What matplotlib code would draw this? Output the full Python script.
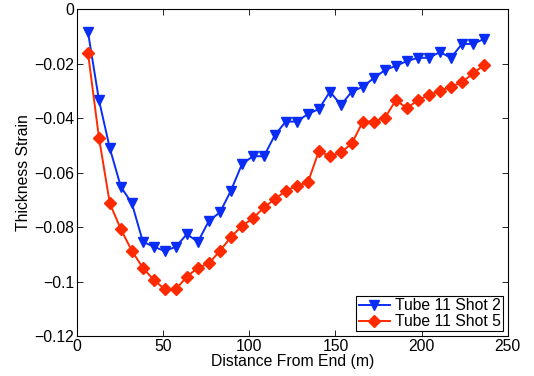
import matplotlib
matplotlib.use("Agg")
import matplotlib.pyplot as plt

distance = [6.4, 12.8, 19.1, 25.5, 31.9, 38.3, 44.7, 51.0, 57.4, 63.8, 70.2, 76.6,
            83.0, 89.3, 95.7, 102.1, 108.5, 114.9, 121.2, 127.6, 134.0, 140.4, 146.8,
            153.2, 159.5, 165.9, 172.3, 178.7, 185.1, 191.5, 197.8, 204.2, 210.6,
            217.0, 223.4, 229.8, 236.1]

shot2 = [-0.0083, -0.0334, -0.0511, -0.0652, -0.0713, -0.0854, -0.0872, -0.0888,
         -0.0872, -0.0826, -0.0854, -0.0777, -0.0746, -0.0667, -0.0570, -0.0540,
         -0.0540, -0.0462, -0.0413, -0.0413, -0.0385, -0.0367, -0.0303, -0.0352,
         -0.0303, -0.0285, -0.0253, -0.0224, -0.0208, -0.0191, -0.0179, -0.0179,
         -0.0158, -0.0179, -0.0128, -0.0128, -0.0110]

shot5 = [-0.0160, -0.0472, -0.0713, -0.0808, -0.0887, -0.0950, -0.0994, -0.1028,
         -0.1028, -0.0982, -0.0949, -0.0933, -0.0887, -0.0837, -0.0796, -0.0768,
         -0.0728, -0.0697, -0.0667, -0.0648, -0.0636, -0.0521, -0.0540, -0.0526,
         -0.0493, -0.0413, -0.0413, -0.0399, -0.0334, -0.0364, -0.0334, -0.0316,
         -0.0300, -0.0285, -0.0269, -0.0236, -0.0206]

xticks = [0, 50, 100, 150, 200, 250]
yticks = [0, -0.02, -0.04, -0.06, -0.08, -0.1, -0.12]
yticklabels = ["0", "\u22120.02", "\u22120.04", "\u22120.06", "\u22120.08", "\u22120.1", "\u22120.12"]

plt.rcParams['font.family'] = ['Liberation Sans', 'DejaVu Sans']

fig = plt.figure(figsize=(5.34, 3.76), dpi=100)
ax = fig.add_axes([0.144, 0.106, 0.807, 0.870])

blue = '#0a2df5'
red = '#ff2a00'
ax.plot(distance, shot2, color=blue, lw=1.4, marker='v', ms=7.5, mfc=blue, mec=blue,
        label='Tube 11 Shot 2')
ax.plot(distance, shot5, color=red, lw=1.4, marker='D', ms=5.8, mfc=red, mec=red,
        label='Tube 11 Shot 5')

ax.set_xlim(0, 250)
ax.set_ylim(-0.12, 0)
ax.set_xticks(xticks)
ax.set_xticklabels([str(t) for t in xticks])
ax.set_yticks(yticks)
ax.set_yticklabels(yticklabels)
ax.tick_params(direction='in', top=True, right=True, labelsize=11.3, length=4,
               width=0.6, pad=2)
for s in ax.spines.values():
    s.set_linewidth(0.8)

ax.set_xlabel('Distance From End (m)', fontsize=11.3, labelpad=0)
ax.set_ylabel('Thickness Strain', fontsize=11.3, labelpad=2)

leg = ax.legend(loc='lower right', fontsize=11.3, fancybox=False, edgecolor='black',
                framealpha=1, borderaxespad=0.3, handlelength=2.0, handletextpad=0.3,
                borderpad=0.15, labelspacing=0.05)
leg.get_frame().set_linewidth(0.8)

fig.savefig('out.png', dpi=100)
